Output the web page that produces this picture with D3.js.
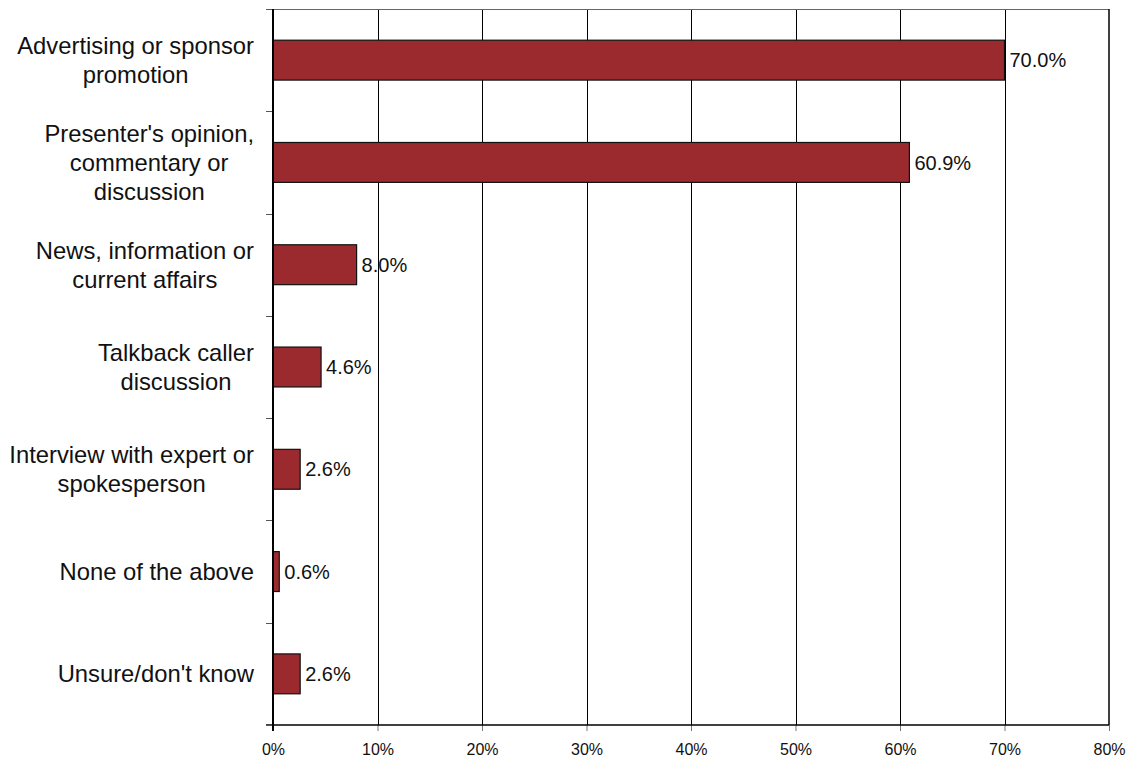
<!DOCTYPE html>
<html>
<head>
<meta charset="utf-8">
<script src="https://cdn.jsdelivr.net/npm/d3@7"></script>
<style>
  html, body { margin: 0; padding: 0; background: #fff; }
  svg { display: block; font-family: "Liberation Sans", Arial, sans-serif; }
</style>
</head>
<body>
<svg id="chart" width="1128" height="760"></svg>
<script>
// Survey responses, percent of respondents
const categories = [
  "Advertising or sponsor promotion",
  "Presenter's opinion, commentary or discussion",
  "News, information or current affairs",
  "Talkback caller discussion",
  "Interview with expert or spokesperson",
  "None of the above",
  "Unsure/don't know"
];
// Line breaks used for the category labels
const categoryLines = [
  ["Advertising or sponsor", "promotion"],
  ["Presenter's opinion,", "commentary or", "discussion"],
  ["News, information or", "current affairs"],
  ["Talkback caller", "discussion"],
  ["Interview with expert or", "spokesperson"],
  ["None of the above"],
  ["Unsure/don't know"]
];
const values = [70.0, 60.9, 8.0, 4.6, 2.6, 0.6, 2.6];
const xTicks = [0, 10, 20, 30, 40, 50, 60, 70, 80];

const svg = d3.select("#chart");
const plot = { left: 273, right: 1109, top: 9, bottom: 725 };

const x = d3.scaleLinear().domain([0, 80]).range([plot.left, plot.right]);
const y = d3.scaleBand().domain(categories)
  .range([plot.top, plot.bottom])
  .paddingInner(0.61).paddingOuter(0.305);

// vertical gridlines
svg.append("g").selectAll("line")
  .data(xTicks.filter(t => t > 0 && t < 80))
  .join("line")
  .attr("x1", d => Math.round(x(d)) + 0.5).attr("x2", d => Math.round(x(d)) + 0.5)
  .attr("y1", plot.top).attr("y2", plot.bottom)
  .attr("stroke", "#000").attr("stroke-width", 1);

// top and right frame
svg.append("line")
  .attr("x1", plot.left - 7).attr("x2", plot.right)
  .attr("y1", plot.top + 0.5).attr("y2", plot.top + 0.5)
  .attr("stroke", "#666").attr("stroke-width", 1);
svg.append("line")
  .attr("x1", plot.right).attr("x2", plot.right)
  .attr("y1", plot.top).attr("y2", plot.bottom)
  .attr("stroke", "#000").attr("stroke-width", 1.5);

// bars
svg.append("g").selectAll("rect")
  .data(categories.map((c, i) => ({ c, v: values[i] })))
  .join("rect")
  .attr("x", x(0))
  .attr("y", d => y(d.c))
  .attr("width", d => x(d.v) - x(0))
  .attr("height", y.bandwidth())
  .attr("fill", "#9b2a2e")
  .attr("stroke", "#111")
  .attr("stroke-width", 1.2);

// value labels
svg.append("g").selectAll("text")
  .data(categories.map((c, i) => ({ c, v: values[i] })))
  .join("text")
  .attr("x", d => x(d.v) + 5)
  .attr("y", d => y(d.c) + y.bandwidth() / 2)
  .attr("dy", "0.36em")
  .attr("font-size", 20)
  .attr("fill", "#111")
  .text(d => d.v.toFixed(1) + "%");

// bottom axis
const xAxis = d3.axisBottom(x)
  .tickValues(xTicks)
  .tickFormat(d => d + "%")
  .tickSize(6)
  .tickPadding(13);
const gx = svg.append("g")
  .attr("transform", `translate(0,${plot.bottom})`)
  .call(xAxis);
gx.select(".domain").remove();
gx.selectAll(".tick line").attr("stroke", "#777");
gx.selectAll(".tick text")
  .attr("font-size", 16)
  .attr("font-family", "'Liberation Sans', Arial, sans-serif")
  .attr("fill", "#111");
svg.append("line")
  .attr("x1", plot.left - 7).attr("x2", plot.right)
  .attr("y1", plot.bottom).attr("y2", plot.bottom)
  .attr("stroke", "#000").attr("stroke-width", 1.5);

// left axis: ticks at category boundaries
const boundaries = d3.range(categories.length + 1)
  .map(i => plot.top + i * y.step());
svg.append("g").selectAll("line")
  .data(boundaries)
  .join("line")
  .attr("x1", plot.left - 7).attr("x2", plot.left)
  .attr("y1", d => Math.round(d) + 0.5).attr("y2", d => Math.round(d) + 0.5)
  .attr("stroke", "#555").attr("stroke-width", 1);
svg.append("line")
  .attr("x1", plot.left).attr("x2", plot.left)
  .attr("y1", plot.top).attr("y2", plot.bottom + 6)
  .attr("stroke", "#000").attr("stroke-width", 2);

// category labels: lines centred in a block that is right-aligned to the axis
const labelRight = 254;
const lineHeight = 29;
categories.forEach((c, i) => {
  const lines = categoryLines[i];
  const cy = y(c) + y.bandwidth() / 2;
  const t = svg.append("text")
    .attr("font-size", 23.8)
    .attr("fill", "#111")
    .attr("text-anchor", "middle");
  lines.forEach((ln, j) => {
    t.append("tspan")
      .attr("y", cy + (j - (lines.length - 1) / 2) * lineHeight)
      .attr("dy", "0.35em")
      .text(ln);
  });
  let maxW = 0;
  t.selectAll("tspan").each(function () {
    maxW = Math.max(maxW, this.getComputedTextLength());
  });
  t.selectAll("tspan").attr("x", labelRight - maxW / 2);
});
</script>
</body>
</html>
